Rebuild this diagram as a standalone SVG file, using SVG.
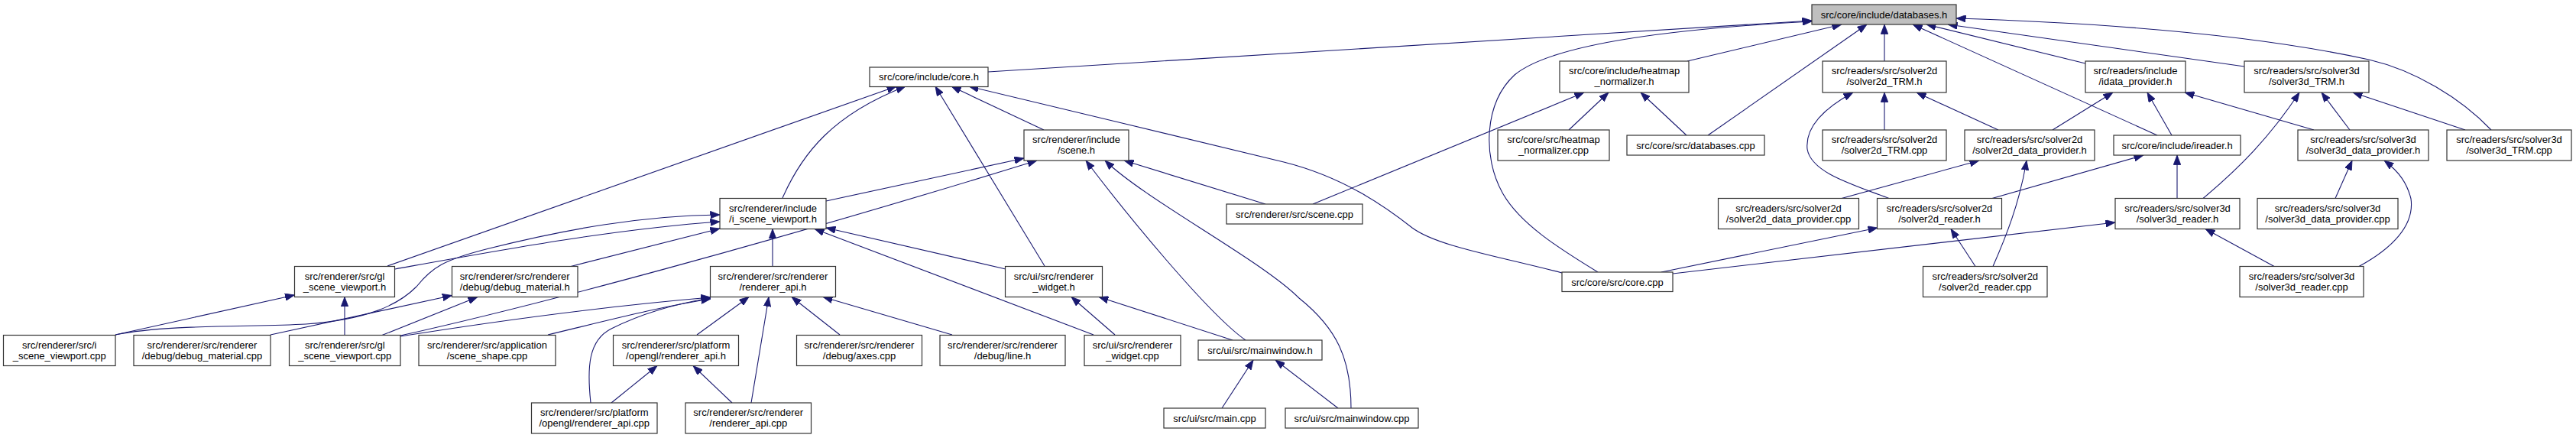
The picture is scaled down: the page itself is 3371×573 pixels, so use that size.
<svg xmlns="http://www.w3.org/2000/svg" width="3371" height="573" viewBox="0 0 3371 573">
<style>
.node rect{fill:#fff;stroke:#333;stroke-width:1.2}
.node.hl rect{fill:#bfbfbf}
.node text{font-family:"Liberation Sans",Arial,Helvetica,sans-serif;font-size:13px;text-anchor:middle;fill:#000}
.edges path{fill:none;stroke:#191970;stroke-width:1.1;marker-end:url(#arr)}
</style>
<defs>
<marker id="arr" viewBox="0 0 12.5 9.5" refX="12.5" refY="4.75" markerWidth="12.5" markerHeight="9.5" markerUnits="userSpaceOnUse" orient="auto">
<path d="M0,0 L12.5,4.75 L0,9.5 z" fill="#191970" stroke="#191970" stroke-width="0.8"/>
</marker>
</defs>
<rect width="3371" height="573" fill="#fff"/>
<g class="edges" id="connectors">
<path d="M1293,94 L2371,27"/>
<path d="M2091,356 C2040,325 1988,292 1966,252 C1940,205 1942,135 1982,98 C2030,58 2180,38 2371,28"/>
<path d="M2208,80 L2410,32"/>
<path d="M2235,177 L2443,32"/>
<path d="M2466,80 L2466,32"/>
<path d="M2823,177 L2503,32"/>
<path d="M2729,83 L2521,32"/>
<path d="M2937,87 L2549,32"/>
<path d="M3260,170 C3220,128 3160,92 3100,78 C2950,45 2750,30 2560,24"/>
<path d="M507,348 L1173,113"/>
<path d="M1024,259 C1050,200 1090,150 1185,113"/>
<path d="M1367,348 L1224,113"/>
<path d="M1366,170 L1245,113"/>
<path d="M2044,357 C1960,335 1880,322 1848,298 C1815,272 1760,232 1680,212 C1550,180 1400,145 1268,113"/>
<path d="M1081,263 L1340,207"/>
<path d="M524,439 C700,400 1000,320 1357,210"/>
<path d="M1656,267 L1471,210"/>
<path d="M1630,445 C1580,410 1470,275 1421,210"/>
<path d="M1768,534 C1768,470 1750,430 1700,390 C1650,340 1500,262 1446,210"/>
<path d="M1718,267 L2073,121"/>
<path d="M2053,170 L2105,121"/>
<path d="M2207,177 L2147,121"/>
<path d="M517,352 C650,328 800,300 942,290"/>
<path d="M151,438 C220,424 330,428 400,424 C480,418 520,400 545,375 C565,350 580,340 640,325 C740,300 840,282 942,281"/>
<path d="M747,348.5 L942,299"/>
<path d="M1011,348.5 L1011,299.5"/>
<path d="M1316,352 L1081,298"/>
<path d="M1431,438 L1066,299.5"/>
<path d="M151,438 L385.5,386"/>
<path d="M451,438.5 L451,388.5"/>
<path d="M354,438 L591.5,386.5"/>
<path d="M500,438.5 L625,388.5"/>
<path d="M524,440 C650,420 800,400 930,389"/>
<path d="M717,438 C800,418 870,400 930,391"/>
<path d="M773,527 C768,480 770,445 800,430 C840,410 880,398 930,390"/>
<path d="M912,438 L980,388.5"/>
<path d="M983,527 L1006,388.5"/>
<path d="M1099,438 L1036,388.5"/>
<path d="M1246,438 L1077,388.5"/>
<path d="M800,527 L860,478.5"/>
<path d="M958,527 L907,478.5"/>
<path d="M1459,438 L1402,388.5"/>
<path d="M1613,445 L1438,388.5"/>
<path d="M1599,534 L1640,471"/>
<path d="M1751,534 L1669,471"/>
<path d="M2466,170 L2466,121"/>
<path d="M2615,170 L2508,121"/>
<path d="M2472,259.5 C2420,240 2370,225 2365,195 C2362,165 2390,140 2425,121"/>
<path d="M2410,259.5 L2590,210"/>
<path d="M2608,348.5 C2625,310 2643,265 2652,210"/>
<path d="M2585,348.5 L2553,299.5"/>
<path d="M2174,356 L2457,298"/>
<path d="M2189,358 L2768,291"/>
<path d="M2607,259.5 L2805,203"/>
<path d="M2849,259.5 L2849,203"/>
<path d="M2842,177 L2810,121"/>
<path d="M2686,170 L2765,121"/>
<path d="M3028,170 L2859,121"/>
<path d="M2883,259.5 C2930,220 2970,180 3009,121"/>
<path d="M3075,170 L3038,121"/>
<path d="M3226,170 L3079,121"/>
<path d="M3056,259.5 L3078,210"/>
<path d="M3087,348.5 C3130,325 3160,295 3155,260 C3150,240 3140,225 3120,210"/>
<path d="M2976,348.5 L2886,299.5"/>
</g>
<g id="n_databases_h" class="node hl"><rect x="2371" y="6" width="189" height="26"/><text x="2465.5" y="23.5">src/core/include/databases.h</text></g>
<g id="n_core_h" class="node"><rect x="1138" y="88" width="155" height="25.5"/><text x="1215.5" y="105">src/core/include/core.h</text></g>
<g id="n_heatmap_normalizer_h" class="node"><rect x="2041" y="80" width="169" height="41"/><text x="2125.5" y="97">src/core/include/heatmap</text><text x="2125.5" y="111">_normalizer.h</text></g>
<g id="n_solver2d_TRM_h" class="node"><rect x="2385" y="80" width="162" height="41"/><text x="2466" y="97">src/readers/src/solver2d</text><text x="2466" y="111">/solver2d_TRM.h</text></g>
<g id="n_idata_provider_h" class="node"><rect x="2729" y="80" width="131" height="41"/><text x="2794.5" y="97">src/readers/include</text><text x="2794.5" y="111">/idata_provider.h</text></g>
<g id="n_solver3d_TRM_h" class="node"><rect x="2937" y="80" width="163" height="41"/><text x="3018.5" y="97">src/readers/src/solver3d</text><text x="3018.5" y="111">/solver3d_TRM.h</text></g>
<g id="n_scene_h" class="node"><rect x="1340" y="170" width="137" height="40"/><text x="1408.5" y="187">src/renderer/include</text><text x="1408.5" y="201">/scene.h</text></g>
<g id="n_heatmap_normalizer_cpp" class="node"><rect x="1960" y="170" width="146" height="40"/><text x="2033" y="187">src/core/src/heatmap</text><text x="2033" y="201">_normalizer.cpp</text></g>
<g id="n_databases_cpp" class="node"><rect x="2129" y="177" width="180" height="26"/><text x="2219" y="194.5">src/core/src/databases.cpp</text></g>
<g id="n_solver2d_TRM_cpp" class="node"><rect x="2385" y="170" width="162" height="40"/><text x="2466" y="187">src/readers/src/solver2d</text><text x="2466" y="201">/solver2d_TRM.cpp</text></g>
<g id="n_solver2d_data_provider_h" class="node"><rect x="2571" y="170" width="170" height="40"/><text x="2656" y="187">src/readers/src/solver2d</text><text x="2656" y="201">/solver2d_data_provider.h</text></g>
<g id="n_ireader_h" class="node"><rect x="2766" y="177" width="166" height="26"/><text x="2849" y="194.5">src/core/include/ireader.h</text></g>
<g id="n_solver3d_data_provider_h" class="node"><rect x="3007" y="170" width="171" height="40"/><text x="3092.5" y="187">src/readers/src/solver3d</text><text x="3092.5" y="201">/solver3d_data_provider.h</text></g>
<g id="n_solver3d_TRM_cpp" class="node"><rect x="3202" y="170" width="163" height="40"/><text x="3283.5" y="187">src/readers/src/solver3d</text><text x="3283.5" y="201">/solver3d_TRM.cpp</text></g>
<g id="n_i_scene_viewport_h" class="node"><rect x="942" y="259.5" width="139" height="40"/><text x="1011.5" y="276.5">src/renderer/include</text><text x="1011.5" y="290.5">/i_scene_viewport.h</text></g>
<g id="n_scene_cpp" class="node"><rect x="1605" y="267" width="178" height="26"/><text x="1694" y="284.5">src/renderer/src/scene.cpp</text></g>
<g id="n_solver2d_data_provider_cpp" class="node"><rect x="2248.5" y="259.5" width="184" height="40"/><text x="2340.5" y="276.5">src/readers/src/solver2d</text><text x="2340.5" y="290.5">/solver2d_data_provider.cpp</text></g>
<g id="n_solver2d_reader_h" class="node"><rect x="2456.5" y="259.5" width="163" height="40"/><text x="2538" y="276.5">src/readers/src/solver2d</text><text x="2538" y="290.5">/solver2d_reader.h</text></g>
<g id="n_solver3d_reader_h" class="node"><rect x="2768" y="259.5" width="163" height="40"/><text x="2849.5" y="276.5">src/readers/src/solver3d</text><text x="2849.5" y="290.5">/solver3d_reader.h</text></g>
<g id="n_solver3d_data_provider_cpp" class="node"><rect x="2954" y="259.5" width="184" height="40"/><text x="3046" y="276.5">src/readers/src/solver3d</text><text x="3046" y="290.5">/solver3d_data_provider.cpp</text></g>
<g id="n_gl_scene_viewport_h" class="node"><rect x="385.5" y="348.5" width="131" height="40"/><text x="451" y="365.5">src/renderer/src/gl</text><text x="451" y="379.5">_scene_viewport.h</text></g>
<g id="n_debug_material_h" class="node"><rect x="591.5" y="348.5" width="164.5" height="40"/><text x="673.75" y="365.5">src/renderer/src/renderer</text><text x="673.75" y="379.5">/debug/debug_material.h</text></g>
<g id="n_renderer_api_h" class="node"><rect x="929.5" y="348.5" width="164" height="40"/><text x="1011.5" y="365.5">src/renderer/src/renderer</text><text x="1011.5" y="379.5">/renderer_api.h</text></g>
<g id="n_renderer_widget_h" class="node"><rect x="1315.5" y="348.5" width="127" height="40"/><text x="1379" y="365.5">src/ui/src/renderer</text><text x="1379" y="379.5">_widget.h</text></g>
<g id="n_core_cpp" class="node"><rect x="2044" y="356" width="145" height="25.5"/><text x="2116.5" y="373.5">src/core/src/core.cpp</text></g>
<g id="n_solver2d_reader_cpp" class="node"><rect x="2516.5" y="348.5" width="162.5" height="40"/><text x="2597.75" y="365.5">src/readers/src/solver2d</text><text x="2597.75" y="379.5">/solver2d_reader.cpp</text></g>
<g id="n_solver3d_reader_cpp" class="node"><rect x="2931" y="348.5" width="162" height="40"/><text x="3012" y="365.5">src/readers/src/solver3d</text><text x="3012" y="379.5">/solver3d_reader.cpp</text></g>
<g id="n_i_scene_viewport_cpp" class="node"><rect x="4.5" y="438.5" width="146.5" height="40"/><text x="77.75" y="455.5">src/renderer/src/i</text><text x="77.75" y="469.5">_scene_viewport.cpp</text></g>
<g id="n_debug_material_cpp" class="node"><rect x="175" y="438.5" width="179" height="40"/><text x="264.5" y="455.5">src/renderer/src/renderer</text><text x="264.5" y="469.5">/debug/debug_material.cpp</text></g>
<g id="n_gl_scene_viewport_cpp" class="node"><rect x="378.5" y="438.5" width="145.5" height="40"/><text x="451.25" y="455.5">src/renderer/src/gl</text><text x="451.25" y="469.5">_scene_viewport.cpp</text></g>
<g id="n_scene_shape_cpp" class="node"><rect x="548" y="438.5" width="179" height="40"/><text x="637.5" y="455.5">src/renderer/src/application</text><text x="637.5" y="469.5">/scene_shape.cpp</text></g>
<g id="n_opengl_renderer_api_h" class="node"><rect x="802.5" y="438.5" width="164" height="40"/><text x="884.5" y="455.5">src/renderer/src/platform</text><text x="884.5" y="469.5">/opengl/renderer_api.h</text></g>
<g id="n_axes_cpp" class="node"><rect x="1042.5" y="438.5" width="164" height="40"/><text x="1124.5" y="455.5">src/renderer/src/renderer</text><text x="1124.5" y="469.5">/debug/axes.cpp</text></g>
<g id="n_line_h" class="node"><rect x="1230" y="438.5" width="164" height="40"/><text x="1312" y="455.5">src/renderer/src/renderer</text><text x="1312" y="469.5">/debug/line.h</text></g>
<g id="n_renderer_widget_cpp" class="node"><rect x="1419" y="438.5" width="126" height="40"/><text x="1482" y="455.5">src/ui/src/renderer</text><text x="1482" y="469.5">_widget.cpp</text></g>
<g id="n_mainwindow_h" class="node"><rect x="1568" y="445" width="162" height="26"/><text x="1649" y="462.5">src/ui/src/mainwindow.h</text></g>
<g id="n_opengl_renderer_api_cpp" class="node"><rect x="695.5" y="527" width="164.5" height="40"/><text x="777.75" y="544">src/renderer/src/platform</text><text x="777.75" y="558">/opengl/renderer_api.cpp</text></g>
<g id="n_renderer_api_cpp" class="node"><rect x="897" y="527" width="164.5" height="40"/><text x="979.25" y="544">src/renderer/src/renderer</text><text x="979.25" y="558">/renderer_api.cpp</text></g>
<g id="n_main_cpp" class="node"><rect x="1523" y="534" width="133" height="26"/><text x="1589.5" y="551.5">src/ui/src/main.cpp</text></g>
<g id="n_mainwindow_cpp" class="node"><rect x="1682" y="534" width="174" height="26"/><text x="1769" y="551.5">src/ui/src/mainwindow.cpp</text></g>
</svg>
